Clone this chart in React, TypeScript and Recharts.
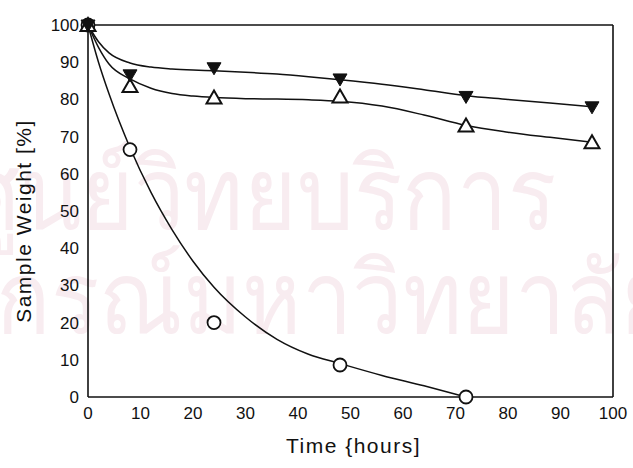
import React from "react";
import { ComposedChart, Line, Scatter, XAxis, YAxis, Label } from "recharts";

// measured sample weights
const timeHours = [0, 8, 24, 48, 72, 96];
const weightFilled = [100, 86.6, 88.5, 85.5, 80.8, 78];
const weightOpen = [100, 83.6, 80.5, 80.8, 73, 68.5];
const circleHours = [0, 8, 24, 48, 72];
const weightCircle = [100, 66.5, 20, 8.6, 0];

// fitted curves
const fitHours = [0, 2, 4, 8, 12, 16, 20, 24, 30, 36, 42, 48, 56, 64, 72, 80, 88, 96];
const fitFilled = [100, 95.5, 92.5, 89.8, 88.7, 88.2, 87.9, 87.7, 87.3, 86.8, 86.1, 85.3, 84.1, 82.6, 81, 80, 79, 78];
const fitOpen = [100, 94, 89.5, 85.5, 83, 81.6, 80.9, 80.5, 80.2, 80.1, 79.9, 79.5, 78.2, 75.8, 73, 71.2, 69.8, 68.5];
const fitCircleHours = [0, 2, 4, 8, 12, 16, 20, 24, 30, 36, 42, 48, 56, 64, 72];
const fitCircle = [100, 90, 81.5, 67, 55, 45, 36.5, 29.5, 21.5, 15.5, 11.5, 9, 5.8, 3, 0];

const majorTicks = [0, 10, 20, 30, 40, 50, 60, 70, 80, 90, 100];
const minorTicks = [5, 15, 25, 35, 45, 55, 65, 75, 85, 95];

const pairs = (xs: number[], ys: number[]) => xs.map((t, i) => ({ t, w: ys[i] }));

const INK = "#111";
const FONT = "'Liberation Sans', Arial, sans-serif";

const DownTriangle = (p: any) => (
  <path d={`M${p.cx - 7},${p.cy - 5} L${p.cx + 7},${p.cy - 5} L${p.cx},${p.cy + 7} Z`} fill={INK} stroke={INK} strokeWidth={1} />
);
const UpTriangle = (p: any) => (
  <path d={`M${p.cx - 7.5},${p.cy + 6} L${p.cx + 7.5},${p.cy + 6} L${p.cx},${p.cy - 7} Z`} fill="#fff" stroke={INK} strokeWidth={2} />
);
const OpenCircle = (p: any) => <circle cx={p.cx} cy={p.cy} r={6.5} fill="#fff" stroke={INK} strokeWidth={1.8} />;

const frame = { domain: [0, 100] as [number, number], type: "number" as const, interval: 0 as const };

// faint background stamp text
const watermarkStyle: React.CSSProperties = {
  position: "absolute",
  lineHeight: 1,
  fontSize: 100,
  fontWeight: 300,
  whiteSpace: "nowrap",
  transform: "scaleX(0.9)",
  transformOrigin: "0 0",
};

export default function App() {
  return (
    <div style={{ position: "absolute", left: 0, top: 0, width: 633, height: 468, background: "#fff", overflow: "hidden" }}>
      <div style={{ position: "absolute", inset: 0, color: "#f8ecf0", fontFamily: "'Noto Sans', sans-serif" }}>
        <div style={{ ...watermarkStyle, left: -37, top: 140 }}>ศูนย์วิทยบริการ</div>
        <div style={{ ...watermarkStyle, left: -268, top: 244 }}>จุฬาลงกรณ์มหาวิทยาลัย</div>
      </div>
      <div style={{ position: "absolute", left: 0, top: 0 }}>
        <ComposedChart width={633} height={468} margin={{ top: 25, right: 20, bottom: 0, left: 0 }}>
          <XAxis
            xAxisId="x"
            dataKey="t"
            {...frame}
            ticks={majorTicks}
            height={71}
            tickLine={false}
            tickSize={0}
            tickMargin={10}
            axisLine={{ stroke: INK, strokeWidth: 1.6 }}
            tick={{ fill: INK, fontSize: 17, fontFamily: FONT }}
          >
            <Label
              content={(props: any) => {
                const vb = props.viewBox;
                return (
                  <text x={vb.x + vb.width / 2 + 3} y={vb.y + 48} textAnchor="middle" dominantBaseline="central" fill={INK} fontSize={21} letterSpacing={1.5} fontFamily={FONT}>
                    Time  {"{"}hours]
                  </text>
                );
              }}
            />
          </XAxis>
          <XAxis xAxisId="xIn" dataKey="t" {...frame} ticks={majorTicks} mirror tick={false} axisLine={false} tickSize={7} tickLine={{ stroke: INK, strokeWidth: 1.4 }} />
          <XAxis xAxisId="xInMinor" dataKey="t" {...frame} ticks={minorTicks} mirror tick={false} axisLine={false} tickSize={4} tickLine={{ stroke: INK, strokeWidth: 1.2 }} />
          <XAxis xAxisId="top" dataKey="t" orientation="top" {...frame} ticks={majorTicks} mirror tick={false} axisLine={{ stroke: INK, strokeWidth: 1.6 }} tickSize={7} tickLine={{ stroke: INK, strokeWidth: 1.4 }} />
          <XAxis xAxisId="topMinor" dataKey="t" orientation="top" {...frame} ticks={minorTicks} mirror tick={false} axisLine={false} tickSize={4} tickLine={{ stroke: INK, strokeWidth: 1.2 }} />

          <YAxis
            yAxisId="y"
            dataKey="w"
            {...frame}
            ticks={majorTicks}
            width={88}
            tickLine={false}
            tickSize={0}
            tickMargin={9}
            axisLine={{ stroke: INK, strokeWidth: 1.6 }}
            tick={{ fill: INK, fontSize: 17, fontFamily: FONT }}
          >
            <Label
              content={(props: any) => {
                const vb = props.viewBox;
                const x = vb.x + 23;
                const y = vb.y + vb.height / 2 + 10;
                return (
                  <text x={x} y={y} transform={`rotate(-90, ${x}, ${y})`} textAnchor="middle" dominantBaseline="central" fill={INK} fontSize={21} letterSpacing={1.5} fontFamily={FONT}>
                    Sample Weight  [%]
                  </text>
                );
              }}
            />
          </YAxis>
          <YAxis yAxisId="yIn" dataKey="w" {...frame} ticks={majorTicks} mirror tick={false} axisLine={false} tickSize={6} tickLine={{ stroke: INK, strokeWidth: 1.4 }} />
          <YAxis yAxisId="yInMinor" dataKey="w" {...frame} ticks={minorTicks} mirror tick={false} axisLine={false} tickSize={3} tickLine={{ stroke: INK, strokeWidth: 1.2 }} />
          <YAxis yAxisId="right" dataKey="w" orientation="right" {...frame} ticks={majorTicks} mirror tick={false} axisLine={{ stroke: INK, strokeWidth: 1.6 }} tickSize={6} tickLine={{ stroke: INK, strokeWidth: 1.4 }} />
          <YAxis yAxisId="rightMinor" dataKey="w" orientation="right" {...frame} ticks={minorTicks} mirror tick={false} axisLine={false} tickSize={3} tickLine={{ stroke: INK, strokeWidth: 1.2 }} />

          <Line xAxisId="x" yAxisId="y" data={pairs(fitHours, fitFilled)} dataKey="w" type="monotone" stroke={INK} strokeWidth={1.5} dot={false} isAnimationActive={false} />
          <Line xAxisId="x" yAxisId="y" data={pairs(fitHours, fitOpen)} dataKey="w" type="monotone" stroke={INK} strokeWidth={1.5} dot={false} isAnimationActive={false} />
          <Line xAxisId="x" yAxisId="y" data={pairs(fitCircleHours, fitCircle)} dataKey="w" type="monotone" stroke={INK} strokeWidth={1.5} dot={false} isAnimationActive={false} />

          <Scatter xAxisId="x" yAxisId="y" data={pairs(circleHours, weightCircle)} dataKey="w" shape={OpenCircle} isAnimationActive={false} />
          <Scatter xAxisId="x" yAxisId="y" data={pairs(timeHours, weightOpen)} dataKey="w" shape={UpTriangle} isAnimationActive={false} />
          <Scatter xAxisId="x" yAxisId="y" data={pairs(timeHours, weightFilled)} dataKey="w" shape={DownTriangle} isAnimationActive={false} />
        </ComposedChart>
      </div>
    </div>
  );
}
